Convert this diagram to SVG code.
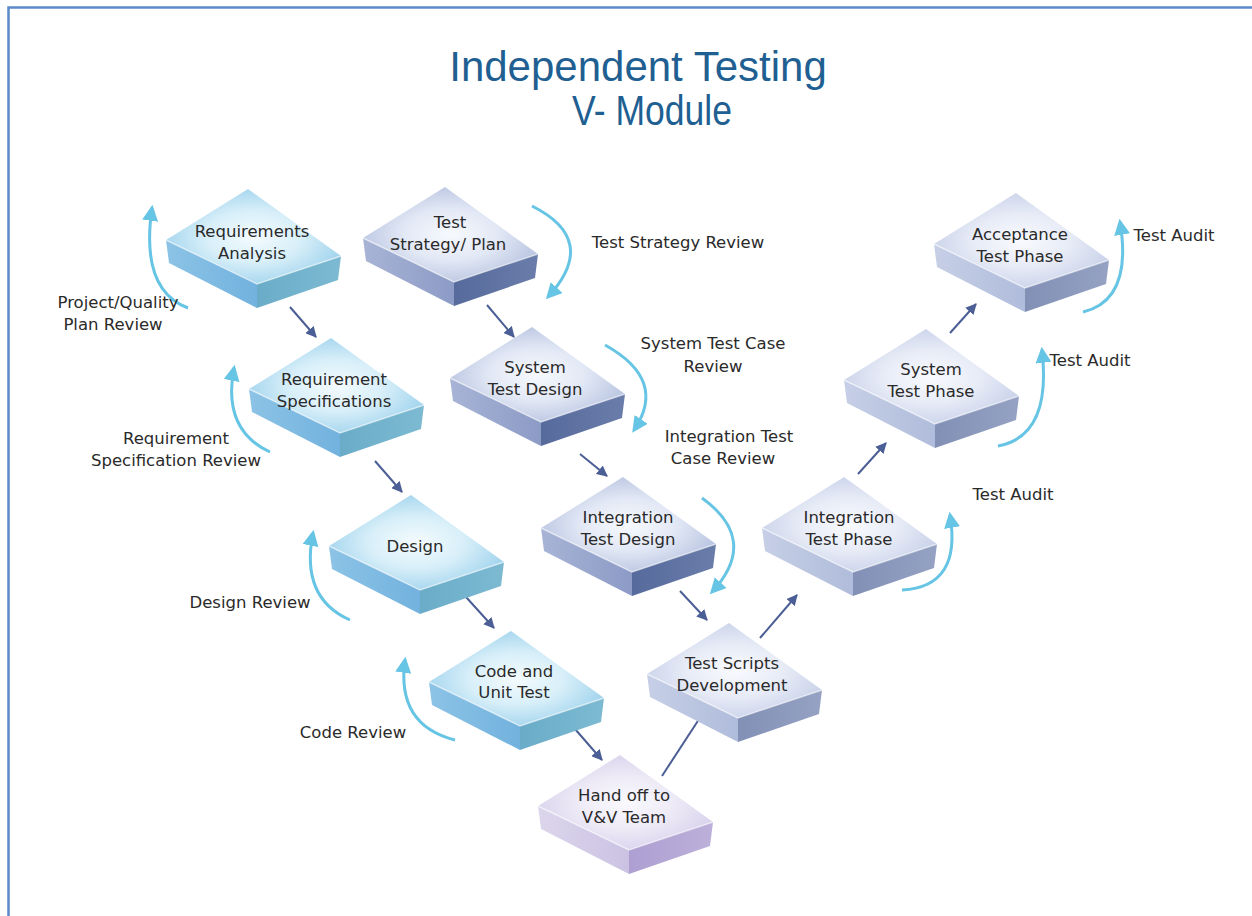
<svg xmlns="http://www.w3.org/2000/svg" width="1252" height="916" viewBox="0 0 1252 916">
<style>
text{font-family:"DejaVu Sans","Liberation Sans",sans-serif;font-size:16.5px;fill:#2a2a2a;text-anchor:middle}
.title{font-family:"Liberation Sans",Arial,sans-serif;font-size:42px;fill:#1f5f92}
.dk{fill:none;stroke:#4b5e95;stroke-width:2;marker-end:url(#mdk)}
.ln{fill:none;stroke:#4b5e95;stroke-width:2}
.cy{fill:none;stroke:#66c4e4;stroke-width:3;marker-end:url(#mcy)}
.edge{fill:none;stroke:#ffffff;stroke-opacity:.55;stroke-width:1.5}
.c .t{fill:url(#gct)} .c .l{fill:url(#gcl)} .c .r{fill:url(#gcr)}
.n .t{fill:url(#gnt)} .n .l{fill:url(#gnl)} .n .r{fill:url(#gnr)}
.p .t{fill:url(#gpt)} .p .l{fill:url(#gpl)} .p .r{fill:url(#gpr)}
.v .t{fill:url(#gvt)} .v .l{fill:url(#gvl)} .v .r{fill:url(#gvr)}
</style>
<defs>
<marker id="mdk" viewBox="0 0 10 10" refX="9" refY="5" markerWidth="11" markerHeight="11" markerUnits="userSpaceOnUse" orient="auto"><path d="M0,0 L10,5 L0,10 z" fill="#4b5e95"/></marker>
<marker id="mcy" viewBox="0 0 10 10" refX="8" refY="5" markerWidth="16" markerHeight="16" markerUnits="userSpaceOnUse" orient="auto"><path d="M0,0 L10,5 L0,10 z" fill="#66c4e4"/></marker>
<radialGradient id="gct" cx="0.5" cy="0.5" r="0.6"><stop offset="0" stop-color="#f4fbfe"/><stop offset="0.45" stop-color="#d8eff9"/><stop offset="1" stop-color="#94cdea"/></radialGradient>
<linearGradient id="gcl" x1="0" y1="0" x2="1" y2="0"><stop offset="0" stop-color="#8cc3e6"/><stop offset="1" stop-color="#72b2de"/></linearGradient>
<linearGradient id="gcr" x1="0" y1="0" x2="1" y2="0"><stop offset="0" stop-color="#6aacc8"/><stop offset="1" stop-color="#7dbad2"/></linearGradient>
<radialGradient id="gnt" cx="0.5" cy="0.5" r="0.6"><stop offset="0" stop-color="#f7f9fd"/><stop offset="0.45" stop-color="#e2e8f5"/><stop offset="1" stop-color="#afbcdc"/></radialGradient>
<linearGradient id="gnl" x1="0" y1="0" x2="1" y2="0"><stop offset="0" stop-color="#a8b4d6"/><stop offset="1" stop-color="#8c9bc6"/></linearGradient>
<linearGradient id="gnr" x1="0" y1="0" x2="1" y2="0"><stop offset="0" stop-color="#566a9c"/><stop offset="1" stop-color="#6a7daa"/></linearGradient>
<radialGradient id="gpt" cx="0.5" cy="0.5" r="0.6"><stop offset="0" stop-color="#f9fafe"/><stop offset="0.45" stop-color="#e8ecf7"/><stop offset="1" stop-color="#c2cce6"/></radialGradient>
<linearGradient id="gpl" x1="0" y1="0" x2="1" y2="0"><stop offset="0" stop-color="#c6cfe6"/><stop offset="1" stop-color="#b0bcdb"/></linearGradient>
<linearGradient id="gpr" x1="0" y1="0" x2="1" y2="0"><stop offset="0" stop-color="#8290b6"/><stop offset="1" stop-color="#95a2c3"/></linearGradient>
<radialGradient id="gvt" cx="0.5" cy="0.5" r="0.6"><stop offset="0" stop-color="#faf9fd"/><stop offset="0.45" stop-color="#eeebf7"/><stop offset="1" stop-color="#d3cce9"/></radialGradient>
<linearGradient id="gvl" x1="0" y1="0" x2="1" y2="0"><stop offset="0" stop-color="#dcd6ec"/><stop offset="1" stop-color="#cbc2e3"/></linearGradient>
<linearGradient id="gvr" x1="0" y1="0" x2="1" y2="0"><stop offset="0" stop-color="#ad9fd2"/><stop offset="1" stop-color="#bcb0da"/></linearGradient>
</defs>
<rect width="1252" height="916" fill="#ffffff"/>
<path d="M8.5,916 V7.5 H1252" fill="none" stroke="#5b8ac8" stroke-width="2.5"/>
<g id="title">
<text class="title" x="638" y="81">Independent Testing</text>
<text class="title" x="652" y="125" textLength="160" lengthAdjust="spacingAndGlyphs">V- Module</text>
</g>
<g id="connectors">
<path class="dk" d="M290,307 L316,337"/>
<path class="dk" d="M375,461 L402,492"/>
<path class="dk" d="M466,597 L494,628"/>
<path class="dk" d="M575,729 L602,760"/>
<path class="dk" d="M487,305 L514,337"/>
<path class="dk" d="M580,454 L607,476"/>
<path class="dk" d="M680,591 L707,620"/>
<path class="ln" d="M662,776 L705,710"/>
<path class="dk" d="M760,638 L797,595"/>
<path class="dk" d="M858,474 L886,443"/>
<path class="dk" d="M950,333 L976,304"/>
<path class="cy" d="M188,308 Q140,290 152,208"/>
<path class="cy" d="M270,452 Q222,430 234,368"/>
<path class="cy" d="M350,620 Q300,598 313,533"/>
<path class="cy" d="M455,740 Q396,725 405,660"/>
<path class="cy" d="M532,206 Q600,240 548,297"/>
<path class="cy" d="M605,345 Q668,380 634,430"/>
<path class="cy" d="M702,498 Q760,540 712,592"/>
<path class="cy" d="M902,590 Q962,587 950,515"/>
<path class="cy" d="M998,446 Q1052,436 1042,350"/>
<path class="cy" d="M1083,312 Q1133,300 1120,222"/>
</g>
<g id="labels">
<text x="118" y="308">Project/Quality</text>
<text x="113" y="330">Plan Review</text>
<text x="176" y="444">Requirement</text>
<text x="176" y="466">Specification Review</text>
<text x="250" y="608">Design Review</text>
<text x="353" y="738">Code Review</text>
<text x="678" y="248">Test Strategy Review</text>
<text x="713" y="349">System Test Case</text>
<text x="713" y="372">Review</text>
<text x="729" y="442">Integration Test</text>
<text x="723" y="464">Case Review</text>
<text x="1013" y="500">Test Audit</text>
<text x="1090" y="366">Test Audit</text>
<text x="1174" y="241">Test Audit</text>
</g>
<g id="node-requirements-analysis" class="c"><g transform="translate(253,242)"><path class="t" d="M-5,-53 L88,14 L4,42 L-87,-2 Z"/><path class="l" d="M-87,-2 L4,42 L4,66 L-84,21 Z"/><path class="r" d="M4,42 L88,14 L85,38 L4,66 Z"/><polyline class="edge" points="-87,-2 4,42 88,14"/></g><text x="252" y="237">Requirements</text><text x="252" y="259">Analysis</text></g>
<g id="node-test-strategy" class="n"><g transform="translate(450,240)"><path class="t" d="M-5,-53 L88,14 L4,42 L-87,-2 Z"/><path class="l" d="M-87,-2 L4,42 L4,66 L-84,21 Z"/><path class="r" d="M4,42 L88,14 L85,38 L4,66 Z"/><polyline class="edge" points="-87,-2 4,42 88,14"/></g><text x="450" y="228">Test</text><text x="448" y="250">Strategy/ Plan</text></g>
<g id="node-requirement-specifications" class="c"><g transform="translate(336,391)"><path class="t" d="M-5,-53 L88,14 L4,42 L-87,-2 Z"/><path class="l" d="M-87,-2 L4,42 L4,66 L-84,21 Z"/><path class="r" d="M4,42 L88,14 L85,38 L4,66 Z"/><polyline class="edge" points="-87,-2 4,42 88,14"/></g><text x="334" y="385">Requirement</text><text x="334" y="407">Specifications</text></g>
<g id="node-system-test-design" class="n"><g transform="translate(537,380)"><path class="t" d="M-5,-53 L88,14 L4,42 L-87,-2 Z"/><path class="l" d="M-87,-2 L4,42 L4,66 L-84,21 Z"/><path class="r" d="M4,42 L88,14 L85,38 L4,66 Z"/><polyline class="edge" points="-87,-2 4,42 88,14"/></g><text x="535" y="373">System</text><text x="535" y="395">Test Design</text></g>
<g id="node-design" class="c"><g transform="translate(416,548)"><path class="t" d="M-5,-53 L88,14 L4,42 L-87,-2 Z"/><path class="l" d="M-87,-2 L4,42 L4,66 L-84,21 Z"/><path class="r" d="M4,42 L88,14 L85,38 L4,66 Z"/><polyline class="edge" points="-87,-2 4,42 88,14"/></g><text x="415" y="552">Design</text></g>
<g id="node-integration-test-design" class="n"><g transform="translate(628,530)"><path class="t" d="M-5,-53 L88,14 L4,42 L-87,-2 Z"/><path class="l" d="M-87,-2 L4,42 L4,66 L-84,21 Z"/><path class="r" d="M4,42 L88,14 L85,38 L4,66 Z"/><polyline class="edge" points="-87,-2 4,42 88,14"/></g><text x="628" y="523">Integration</text><text x="628" y="545">Test Design</text></g>
<g id="node-code-unit-test" class="c"><g transform="translate(516,684)"><path class="t" d="M-5,-53 L88,14 L4,42 L-87,-2 Z"/><path class="l" d="M-87,-2 L4,42 L4,66 L-84,21 Z"/><path class="r" d="M4,42 L88,14 L85,38 L4,66 Z"/><polyline class="edge" points="-87,-2 4,42 88,14"/></g><text x="514" y="677">Code and</text><text x="514" y="698">Unit Test</text></g>
<g id="node-test-scripts" class="p"><g transform="translate(734,676)"><path class="t" d="M-5,-53 L88,14 L4,42 L-87,-2 Z"/><path class="l" d="M-87,-2 L4,42 L4,66 L-84,21 Z"/><path class="r" d="M4,42 L88,14 L85,38 L4,66 Z"/><polyline class="edge" points="-87,-2 4,42 88,14"/></g><text x="732" y="669">Test Scripts</text><text x="732" y="691">Development</text></g>
<g id="node-hand-off" class="v"><g transform="translate(625,808)"><path class="t" d="M-5,-53 L88,14 L4,42 L-87,-2 Z"/><path class="l" d="M-87,-2 L4,42 L4,66 L-84,21 Z"/><path class="r" d="M4,42 L88,14 L85,38 L4,66 Z"/><polyline class="edge" points="-87,-2 4,42 88,14"/></g><text x="624" y="801">Hand off to</text><text x="624" y="823">V&amp;V Team</text></g>
<g id="node-integration-test-phase" class="p"><g transform="translate(849,530)"><path class="t" d="M-5,-53 L88,14 L4,42 L-87,-2 Z"/><path class="l" d="M-87,-2 L4,42 L4,66 L-84,21 Z"/><path class="r" d="M4,42 L88,14 L85,38 L4,66 Z"/><polyline class="edge" points="-87,-2 4,42 88,14"/></g><text x="849" y="523">Integration</text><text x="849" y="545">Test Phase</text></g>
<g id="node-system-test-phase" class="p"><g transform="translate(931,382)"><path class="t" d="M-5,-53 L88,14 L4,42 L-87,-2 Z"/><path class="l" d="M-87,-2 L4,42 L4,66 L-84,21 Z"/><path class="r" d="M4,42 L88,14 L85,38 L4,66 Z"/><polyline class="edge" points="-87,-2 4,42 88,14"/></g><text x="931" y="375">System</text><text x="931" y="397">Test Phase</text></g>
<g id="node-acceptance-test-phase" class="p"><g transform="translate(1021,246)"><path class="t" d="M-5,-53 L88,14 L4,42 L-87,-2 Z"/><path class="l" d="M-87,-2 L4,42 L4,66 L-84,21 Z"/><path class="r" d="M4,42 L88,14 L85,38 L4,66 Z"/><polyline class="edge" points="-87,-2 4,42 88,14"/></g><text x="1020" y="240">Acceptance</text><text x="1020" y="262">Test Phase</text></g>
</svg>
